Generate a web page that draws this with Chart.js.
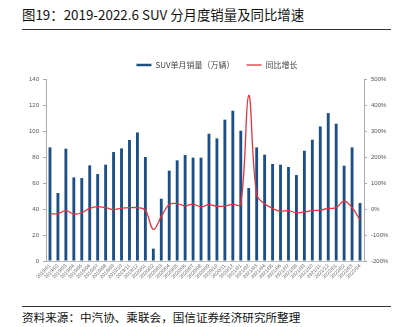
<!DOCTYPE html>
<html>
<head>
<meta charset="utf-8">
<script src="https://cdn.jsdelivr.net/npm/chart.js@4.4.0/dist/chart.umd.min.js"></script>
<style>
  body { margin: 0; width: 402px; height: 327px; background: #fff; position: relative; overflow: hidden; font-family: "Noto Sans CJK SC", sans-serif; }
  #title { position: absolute; left: 22px; top: 4px; font-size: 13.4px; color: #111; white-space: nowrap; }
  .rule { position: absolute; left: 22px; width: 369px; height: 1px; background: #333; }
  #source { position: absolute; left: 22px; top: 309px; font-size: 11.6px; color: #111; white-space: nowrap; }
  #wrap { position: absolute; left: 0; top: 55px; width: 402px; height: 240px; }
</style>
</head>
<body>
<div id="title">图19：2019-2022.6 SUV 分月度销量及同比增速</div>
<div class="rule" style="top:29px"></div>
<div id="wrap"><canvas id="myChart"></canvas></div>
<div class="rule" style="top:306px"></div>
<div id="source">资料来源：中汽协、乘联会，国信证券经济研究所整理</div>
<script>
const months = [
  '2019/01','2019/02','2019/03','2019/04','2019/05','2019/06','2019/07','2019/08','2019/09','2019/10','2019/11','2019/12',
  '2020/01','2020/02','2020/03','2020/04','2020/05','2020/06','2020/07','2020/08','2020/09','2020/10','2020/11','2020/12',
  '2021/01','2021/02','2021/03','2021/04','2021/05','2021/06','2021/07','2021/08','2021/09','2021/10','2021/11','2021/12',
  '2022/01','2022/02','2022/03','2022/04'
];
// SUV单月销量（万辆）
const sales = [
  87.4, 52.3, 86.4, 64.3, 63.8, 73.6, 66.9, 74.1, 83.8, 86.6, 93.1, 98.9,
  80.0, 9.5, 47.9, 69.5, 77.4, 81.5, 79.5, 79.5, 97.9, 94.3, 108.7, 115.6,
  100.2, 56.1, 87.4, 81.8, 74.6, 74.1, 72.3, 66.1, 84.8, 93.3, 103.5, 113.8,
  105.6, 73.3, 87.4, 44.6
];
// 同比增长 (%)
const yoy = [
  -18, -18, -6, -20, -14, 2, 9, 5, -2, 3, 5, 5,
  -5, -78, -29, 17, 21, 12, 19, 8, 17, 10, 12, 18,
  18, 437, 55, 20, 2, -9, -6, -15, -11, -6, -4, 2,
  5, 30, 5, -42
];

const gray = '#555';
const tickFont = { size: 6, family: 'Liberation Sans, Arial, sans-serif' };
const legendPad = 12;   // gap between legend items
const extra = legendPad - 6; // trim the extra vertical room this padding adds

// legend in the source sits right of centre and tight above the plot
const legendPlace = {
  id: 'legendPlace',
  beforeLayout(chart) {
    const lg = chart.legend;
    if (lg && !lg._patched) {
      const fit = lg.fit.bind(lg);
      lg.fit = function () { fit(); this.height -= extra; };
      lg._patched = true;
    }
  },
  afterLayout(chart) {
    const lg = chart.legend;
    lg.left += 16; lg.right += 16;
    lg.top -= extra; lg.bottom -= extra;
  }
};

const ctx = document.getElementById('myChart');
const myChart = new Chart(ctx, {
  data: {
    labels: months,
    datasets: [
      {
        type: 'line',
        label: '同比增长',
        data: yoy,
        yAxisID: 'y1',
        borderColor: '#e8323c',
        backgroundColor: '#e8323c',
        borderWidth: 1.3,
        pointRadius: 0,
        tension: 0.4,
        order: 0,
      },
      {
        type: 'bar',
        label: 'SUV单月销量（万辆）',
        data: sales,
        yAxisID: 'y',
        backgroundColor: '#1d4f82',
        borderWidth: 0,
        barPercentage: 0.36,
        categoryPercentage: 1,
        order: 1,
      },
    ]
  },
  options: {
    responsive: true,
    maintainAspectRatio: false,
    animation: false,
    plugins: {
      tooltip: { enabled: false },
      legend: {
        position: 'top',
        reverse: true,
        labels: {
          usePointStyle: true,
          pointStyle: 'line',
          pointStyleWidth: 15,
          padding: legendPad,
          color: '#444',
          font: { size: 8, family: 'Noto Sans CJK SC' },
          generateLabels(chart) {
            const items = Chart.defaults.plugins.legend.labels.generateLabels(chart);
            items.forEach(it => { it.lineWidth = it.text === '同比增长' ? 1.3 : 2.5; it.strokeStyle = it.fillStyle; });
            return items;
          },
        },
      },
    },
    scales: {
      x: {
        offset: true,
        grid: { display: false, drawTicks: false },
        border: { color: '#bbb' },
        ticks: {
          autoSkip: false,
          maxRotation: 45,
          minRotation: 45,
          color: '#666',
          padding: 2,
          font: { size: 5, family: 'Liberation Sans, Arial, sans-serif' },
        },
        afterFit: (scale) => { scale.height = 34; },
      },
      y: {
        position: 'left',
        min: 0,
        max: 140,
        ticks: { stepSize: 20, color: gray, font: tickFont, padding: 4 },
        grid: { drawOnChartArea: false, tickLength: 3, color: '#aaa' },
        border: { color: '#aaa' },
        afterFit: (scale) => { scale.width = 46; },
      },
      y1: {
        position: 'right',
        min: -200,
        max: 500,
        ticks: { stepSize: 100, color: gray, font: tickFont, padding: 4, callback: v => v + '%' },
        grid: { drawOnChartArea: false, tickLength: 3, color: '#aaa' },
        border: { color: '#aaa' },
        afterFit: (scale) => { scale.width = 38; },
      },
    },
  },
  plugins: [legendPlace],
});
</script>
</body>
</html>
